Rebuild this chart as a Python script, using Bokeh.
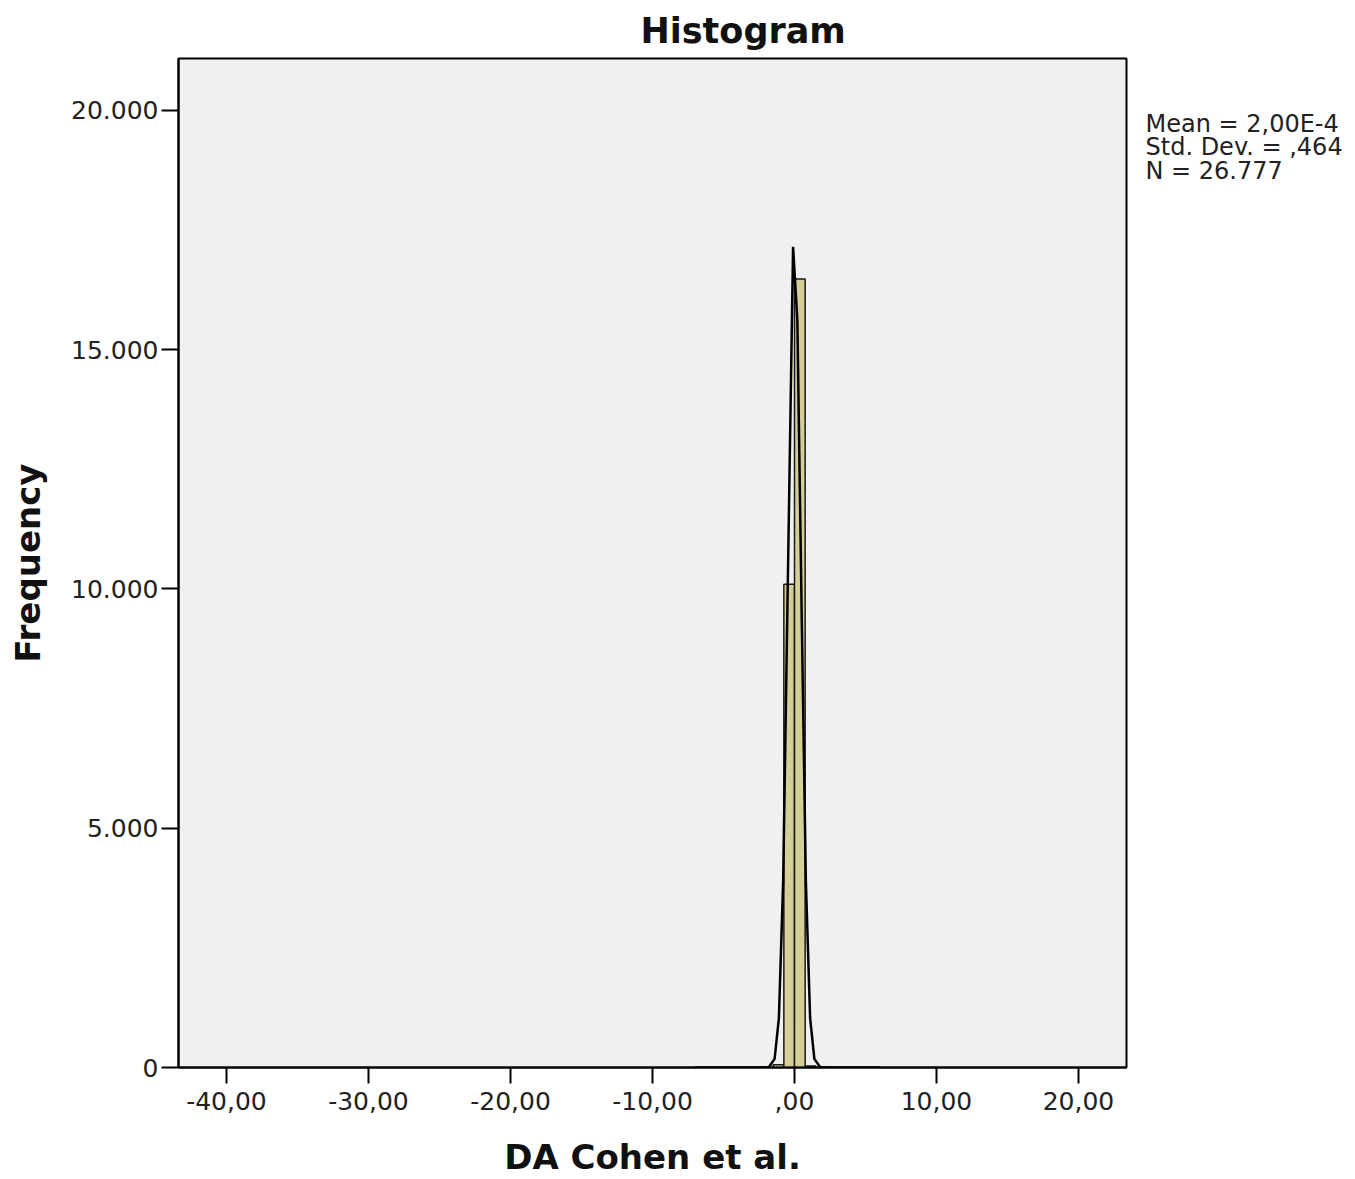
from bokeh.plotting import figure
from bokeh.models import FixedTicker, Label, Range1d
from bokeh.embed import file_html
from bokeh.resources import INLINE

# Histogram bins (DA Cohen et al.)
bin_left = [-1.5, -0.75, 0.0, 0.75]
bin_right = [-0.75, 0.0, 0.75, 1.5]
counts = [60, 10100, 16480, 30]

# Fitted normal curve
curve_x = [-7, -4, -2.5, -1.8, -1.4, -1.1, -0.8, -0.5, -0.1, 0.2, 0.5, 0.8, 1.1, 1.4, 1.8, 2.5, 4, 6]
curve_y = [0, 0, 1, 9, 180, 1030, 3880, 9590, 17150, 15630, 9590, 3880, 1030, 180, 9, 1, 0, 0]

x_ticks = [-40, -30, -20, -10, 0, 10, 20]
x_tick_labels = ["-40,00", "-30,00", "-20,00", "-10,00", ",00", "10,00", "20,00"]
y_ticks = [0, 5000, 10000, 15000, 20000]
y_tick_labels = ["0", "5.000", "10.000", "15.000", "20.000"]

stats_lines = ["Mean = 2,00E-4", "Std. Dev. = ,464", "N = 26.777"]

FONT = "DejaVu Sans"

p = figure(width=1355, height=1179, output_backend="svg", toolbar_location=None,
           x_range=Range1d(-43.38, 23.38), y_range=Range1d(0, 21086),
           min_border_left=178, min_border_right=229, min_border_top=57, min_border_bottom=112)

p.background_fill_color = "#f0f0f0"
p.border_fill_color = "white"
p.outline_line_color = "black"
p.outline_line_width = 2
p.xgrid.visible = False
p.ygrid.visible = False

p.title.text = "Histogram"
p.title.align = "left"
p.title.offset = 462
p.title.standoff = 16
p.title.text_font = FONT
p.title.text_font_style = "bold"
p.title.text_font_size = "35px"
p.title.text_color = "#111111"

p.quad(left=bin_left, right=bin_right, bottom=0, top=counts,
       fill_color="#d4ce98", line_color="#1a1a1a", line_width=1.5)
p.line(curve_x, curve_y, line_color="black", line_width=2.5)

for ax in (p.xaxis[0], p.yaxis[0]):
    ax.axis_line_color = "black"
    ax.axis_line_width = 2
    ax.major_tick_line_color = "black"
    ax.major_tick_line_width = 2
    ax.major_tick_in = 0
    ax.minor_tick_line_color = None
    ax.major_label_text_font = FONT
    ax.major_label_text_font_size = "25px"
    ax.major_label_text_color = "#222222"
    ax.axis_label_text_font = FONT
    ax.axis_label_text_font_style = "bold"
    ax.axis_label_text_font_size = "34px"
    ax.axis_label_text_color = "#111111"

p.xaxis.ticker = FixedTicker(ticks=x_ticks)
p.xaxis.major_label_overrides = {t: l for t, l in zip(x_ticks, x_tick_labels)}
p.xaxis.major_tick_out = 16
p.xaxis.major_label_standoff = 8
p.xaxis.axis_label = "DA Cohen et al."
p.xaxis.axis_label_standoff = 24

p.yaxis.ticker = FixedTicker(ticks=y_ticks)
p.yaxis.major_label_overrides = {t: l for t, l in zip(y_ticks, y_tick_labels)}
p.yaxis.major_tick_out = 17
p.yaxis.major_label_standoff = 3
p.yaxis.axis_label = "Frequency"
p.yaxis.axis_label_standoff = 20

stats = Label(x=19, y=920, x_units="screen", y_units="screen",
              text="\n".join(stats_lines), text_align="left",
              text_baseline="alphabetic", text_font=FONT, text_line_height=0.83,
              text_font_size="24px", text_color="#222222")
p.add_layout(stats, "right")

open("out.html", "w").write(file_html(p, INLINE))
